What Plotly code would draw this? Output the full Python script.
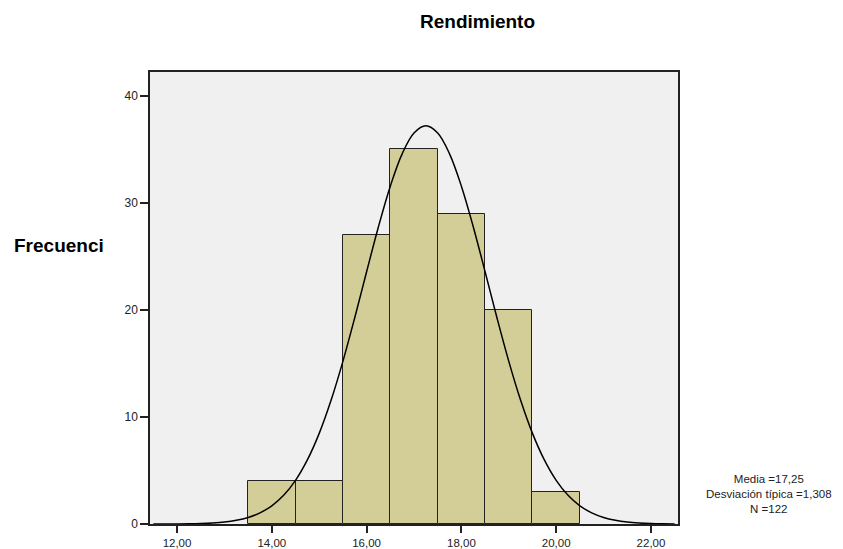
import plotly.graph_objects as go

# Histogram data (bin centres, counts)
BIN_CENTERS = [14, 15, 16, 17, 18, 19, 20]
COUNTS = [4, 4, 27, 35, 29, 20, 3]

# Normal curve overlay
CURVE_X = [11.5, 11.75, 12.0, 12.25, 12.5, 12.75, 13.0, 13.25, 13.5, 13.75, 14.0, 14.25,
           14.5, 14.75, 15.0, 15.25, 15.5, 15.75, 16.0, 16.25, 16.5, 16.75, 17.0, 17.25,
           17.5, 17.75, 18.0, 18.25, 18.5, 18.75, 19.0, 19.25, 19.5, 19.75, 20.0, 20.25,
           20.5, 20.75, 21.0, 21.25, 21.5, 21.75, 22.0, 22.25, 22.5]
CURVE_Y = [0.0, 0.005, 0.01, 0.025, 0.05, 0.10, 0.19, 0.35, 0.61, 1.04, 1.70, 2.68,
           4.08, 5.99, 8.47, 11.56, 15.20, 19.28, 23.57, 27.78, 31.57, 34.59, 36.54, 37.21,
           36.54, 34.59, 31.57, 27.78, 23.57, 19.28, 15.20, 11.56, 8.47, 5.99, 4.08, 2.68,
           1.70, 1.04, 0.61, 0.35, 0.19, 0.10, 0.05, 0.025, 0.01]

X_TICKS = [12, 14, 16, 18, 20, 22]
X_TICK_LABELS = ["12,00", "14,00", "16,00", "18,00", "20,00", "22,00"]
Y_TICKS = [0, 10, 20, 30, 40]

STATS = ["Media =17,25", "Desviación típica =1,308", "N =122"]

FONT = "Arial, 'Liberation Sans', sans-serif"
BAR_COLOR = "#D3CE97"
PLOT_BG = "#F0F0F0"

# the page body adds an 8px margin, so the figure is drawn 8px smaller
# and every target pixel position is shifted by it
OFF = 8
W, H = 843 - OFF, 549 - OFF
L, R, T, B = 150 - OFF, 678 - OFF, 72 - OFF, 524 - OFF


def px_x(x):
    return (x - OFF - L) / (R - L)


def px_y(y):
    return (B - (y - OFF)) / (B - T)


fig = go.Figure()

fig.add_trace(go.Bar(
    x=BIN_CENTERS, y=COUNTS, width=1,
    marker=dict(color=BAR_COLOR, line=dict(color="#222222", width=1)),
    showlegend=False, hoverinfo="x+y"
))

fig.add_trace(go.Scatter(
    x=CURVE_X, y=CURVE_Y, mode="lines",
    line=dict(color="black", width=1.5, shape="spline"),
    showlegend=False, hoverinfo="skip"
))

annotations = [
    dict(text="<b>Rendimiento</b>", x=px_x(477), y=px_y(21),
         font=dict(family=FONT, size=19, color="black")),
    dict(text="<b>Frecuenci</b>", x=px_x(59), y=px_y(245),
         font=dict(family=FONT, size=19, color="black")),
    dict(text="<br>".join(STATS), x=px_x(769), y=px_y(494), align="center",
         font=dict(family=FONT, size=11.5, color="#222222")),
]
for a in annotations:
    a.update(xref="paper", yref="paper", showarrow=False,
             xanchor="center", yanchor="middle")

fig.update_layout(
    width=W, height=H,
    margin=dict(l=L, r=W - R, t=T, b=H - B, autoexpand=False),
    paper_bgcolor="white",
    plot_bgcolor=PLOT_BG,
    bargap=0,
    font=dict(family=FONT, size=12, color="#222222"),
    xaxis=dict(
        range=[11.43, 22.57],
        tickvals=X_TICKS, ticktext=X_TICK_LABELS,
        tickfont=dict(size=11.5),
        ticks="outside", ticklen=7, tickwidth=1.5, tickcolor="#222222",
        showline=True, linecolor="#222222", linewidth=1.5, mirror=True,
        showgrid=False, zeroline=False, automargin=False,
    ),
    yaxis=dict(
        range=[0, 42.24],
        tickvals=Y_TICKS,
        ticks="outside", ticklen=8, tickwidth=1.5, tickcolor="#222222",
        showline=True, linecolor="#222222", linewidth=1.5, mirror=True,
        showgrid=False, zeroline=False, automargin=False,
    ),
    annotations=annotations,
)

fig.write_html("out.html")
